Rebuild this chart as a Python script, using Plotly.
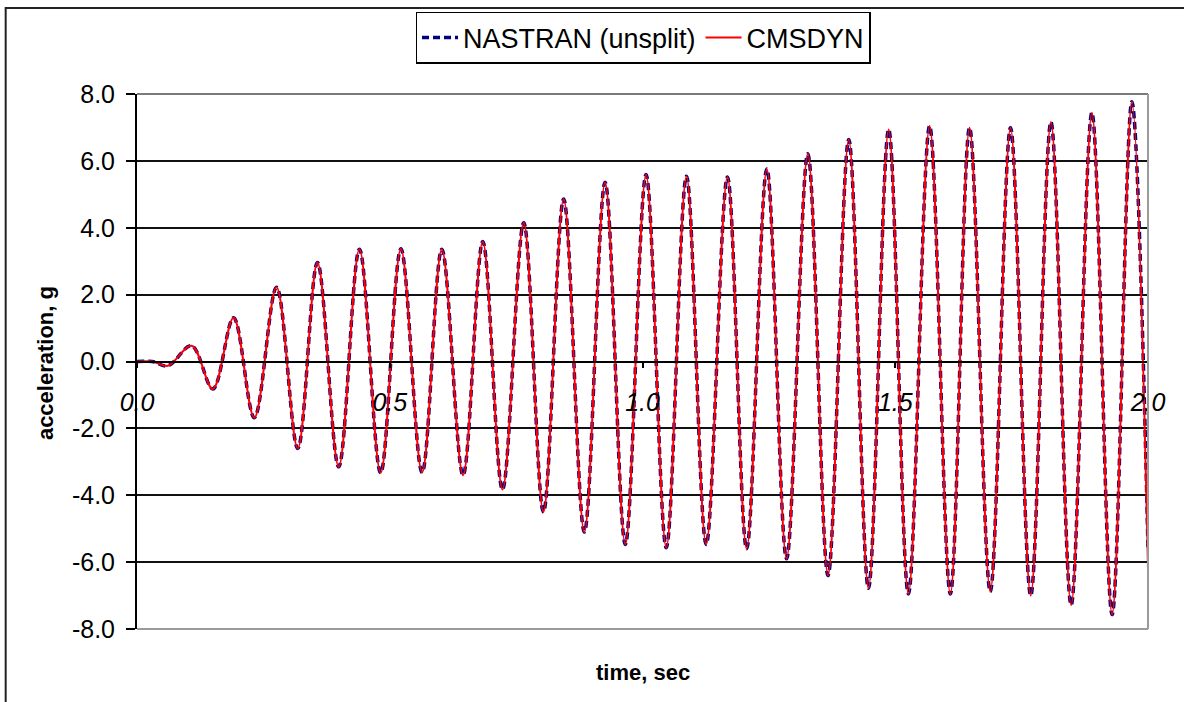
import plotly.graph_objects as go

# Extremes (peaks/troughs) of the acceleration history
time_s = [0.000, 0.030, 0.061, 0.108, 0.150, 0.191, 0.232, 0.276, 0.318, 0.357,
          0.399, 0.440, 0.482, 0.522, 0.564, 0.603, 0.645, 0.684, 0.723, 0.765,
          0.804, 0.844, 0.885, 0.926, 0.966, 1.007, 1.047, 1.087, 1.126, 1.168,
          1.206, 1.246, 1.285, 1.327, 1.367, 1.408, 1.447, 1.487, 1.526, 1.568,
          1.609, 1.647, 1.688, 1.728, 1.768, 1.808, 1.848, 1.889, 1.929, 1.968,
          2.000]

nastran_g = [0.00, 0.00, -0.13, 0.47, -0.82, 1.31, -1.68, 2.22, -2.60, 2.96,
             -3.15, 3.36, -3.33, 3.37, -3.32, 3.36, -3.40, 3.59, -3.83, 4.15,
             -4.50, 4.86, -5.10, 5.36, -5.47, 5.59, -5.57, 5.54, -5.47, 5.52,
             -5.60, 5.76, -5.90, 6.21, -6.40, 6.64, -6.78, 6.94, -6.95, 7.04,
             -6.95, 6.99, -6.88, 6.99, -7.00, 7.16, -7.28, 7.44, -7.57, 7.77,
             -5.60]

cmsdyn_g = [0.00, 0.00, -0.13, 0.47, -0.82, 1.31, -1.68, 2.22, -2.60, 2.96,
            -3.15, 3.36, -3.33, 3.37, -3.32, 3.36, -3.40, 3.59, -3.83, 4.15,
            -4.50, 4.86, -5.10, 5.36, -5.47, 5.59, -5.57, 5.54, -5.47, 5.52,
            -5.60, 5.76, -5.90, 6.21, -6.40, 6.64, -6.78, 6.94, -6.95, 7.04,
            -6.95, 6.99, -6.88, 6.99, -7.00, 7.16, -7.28, 7.44, -7.57, 7.77,
            -6.20]

x_tickvals = [0.0, 0.5, 1.0, 1.5, 2.0]
x_ticktext = ["0.0", "0.5", "1.0", "1.5", "2.0"]
y_tickvals = [-8, -6, -4, -2, 0, 2, 4, 6, 8]
y_ticktext = ["-8.0", "-6.0", "-4.0", "-2.0", "0.0", "2.0", "4.0", "6.0", "8.0"]

FONT = "Liberation Sans, Arial, sans-serif"

fig = go.Figure()
fig.add_trace(go.Scatter(
    x=time_s, y=nastran_g, mode="lines", name="NASTRAN (unsplit)",
    line=dict(color="#000080", width=3.5, dash="7px,4px", shape="spline", smoothing=1.0),
))
fig.add_trace(go.Scatter(
    x=time_s, y=cmsdyn_g, mode="lines", name="CMSDYN",
    line=dict(color="#FF0000", width=2, shape="spline", smoothing=1.0),
))

fig.update_layout(
    width=1184, height=702,
    margin=dict(l=137, r=36, t=94, b=73),
    paper_bgcolor="white", plot_bgcolor="white",
    font=dict(family=FONT, color="black"),
    showlegend=True,
    legend=dict(
        orientation="h", x=0.5005, y=1.1533, xanchor="center", yanchor="top",
        bordercolor="black", borderwidth=1.5, bgcolor="white",
        font=dict(family=FONT, size=27, color="black"),
        itemwidth=36, tracegroupgap=0,
    ),
    xaxis=dict(
        range=[0, 2], anchor="free", position=0.5,
        showgrid=False, zeroline=False,
        showline=True, linecolor="black", linewidth=2,
        ticks="outside", ticklen=5, tickcolor="black", tickwidth=1.5,
        tickvals=x_tickvals, ticktext=x_ticktext,
        tickfont=dict(family=FONT, size=25, color="black", style="italic"),
        ticklabelstandoff=13,
    ),
    yaxis=dict(
        range=[-8, 8], tickvals=y_tickvals, ticktext=y_ticktext,
        showgrid=True, gridcolor="#111111", gridwidth=1.5,
        zeroline=False,
        showline=True, linecolor="black", linewidth=2,
        ticks="outside", ticklen=9, tickcolor="black", tickwidth=2,
        tickfont=dict(family=FONT, size=25, color="black"),
        ticklabelstandoff=6,
    ),
    annotations=[
        dict(text="<b>acceleration, g</b>", textangle=-90, xref="paper", yref="paper",
             x=-0.091, y=0.497, xanchor="center", yanchor="middle", showarrow=False,
             font=dict(family=FONT, size=22, color="black")),
        dict(text="<b>time, sec</b>", xref="paper", yref="paper",
             x=0.5005, y=-0.0804, xanchor="center", yanchor="middle", showarrow=False,
             font=dict(family=FONT, size=22, color="black")),
    ],
    shapes=[
        # outer chart border
        dict(type="rect", xref="paper", yref="paper", x0=-0.1299, x1=1.04,
             y0=-0.15, y1=1.1607, line=dict(color="#222222", width=2), layer="below"),
        # plot-area frame (top, right, bottom)
        dict(type="line", xref="paper", yref="paper", x0=0, x1=1, y0=1, y1=1,
             line=dict(color="#7a7a7a", width=2), layer="above"),
        dict(type="line", xref="paper", yref="paper", x0=1, x1=1, y0=0, y1=1,
             line=dict(color="#9a9a9a", width=2), layer="above"),
        dict(type="line", xref="paper", yref="paper", x0=0, x1=1, y0=0, y1=0,
             line=dict(color="#9a9a9a", width=2), layer="above"),
    ],
)

fig.write_html(
    "out.html",
    config={"displayModeBar": False},
    post_script="document.body.style.margin='0';document.body.style.overflow='hidden';",
)
